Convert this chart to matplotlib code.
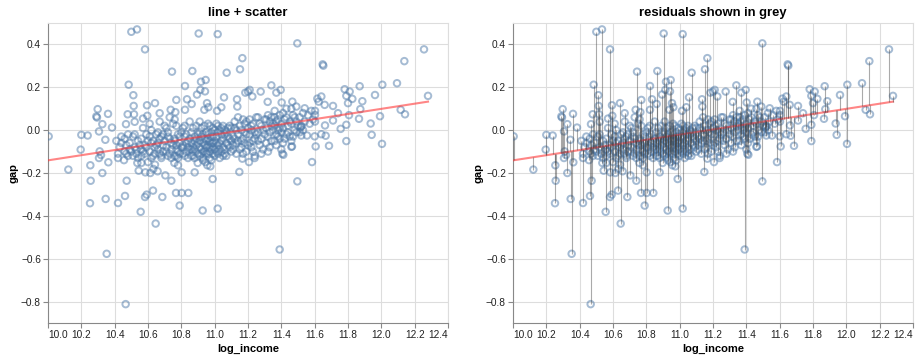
import numpy as np
import matplotlib
matplotlib.use("Agg")
import matplotlib.pyplot as plt

# points well away from the dense core (read one by one)
outer_x = [10.500, 10.534, 10.904, 11.018, 10.582, 11.496, 12.256, 12.138, 11.648, 11.652,
           11.166, 11.152, 10.744, 10.866, 11.072, 10.484, 10.822, 10.918, 10.946, 10.914,
           10.942, 10.894, 11.340, 12.006, 12.094, 11.870, 11.780, 11.810, 11.790, 11.826,
           11.886, 11.962, 12.280, 12.116, 12.142, 11.992, 11.936, 11.942, 12.004, 11.790,
           11.686, 11.606, 11.584, 11.496, 11.390, 11.756, 11.790, 11.806, 11.866, 11.874,
           11.800, 11.710, 11.740, 11.710, 11.662, 11.666, 11.640, 11.600, 11.640, 11.616,
           11.624, 11.660, 11.602, 11.602, 11.602, 11.540, 11.490, 11.466, 11.520, 11.514,
           11.520, 11.554, 11.464, 11.406, 11.370, 11.396, 11.276, 11.200, 11.184, 11.210,
           11.226, 11.134, 11.056, 11.136, 11.318, 11.402, 11.040, 11.014, 10.954, 10.962,
           10.938, 10.862, 10.834, 10.770, 10.642, 10.594, 10.514, 10.512, 10.822, 10.736,
           10.764, 10.670, 10.596, 10.516, 10.478, 10.360, 10.298, 10.290, 10.294, 10.326,
           10.306, 10.384, 10.468, 10.520, 10.570, 10.200, 10.238, 10.004, 10.196, 10.122,
           10.254, 10.256, 10.252, 10.310, 10.306, 10.318, 10.326, 10.362, 10.344, 10.346,
           10.352, 10.420, 10.462, 10.472, 10.456, 10.466, 10.556, 10.582, 10.592, 10.630,
           10.646, 10.686, 10.768, 10.802, 10.842, 10.790, 10.928, 11.018, 10.988, 11.148,
           10.704, 10.740, 10.544, 10.584, 10.614, 10.632, 10.658, 10.802, 10.880, 10.780,
           10.758, 10.770, 10.536, 10.560, 10.600, 10.642, 10.898, 10.956, 10.974, 10.944,
           11.206, 11.166, 11.240, 11.460, 11.412]
outer_y = [0.459, 0.470, 0.451, 0.448, 0.377, 0.405, 0.377, 0.322, 0.307, 0.301,
           0.336, 0.284, 0.273, 0.276, 0.268, 0.212, 0.206, 0.226, 0.234, 0.188,
           0.181, 0.166, 0.209, 0.212, 0.219, 0.205, 0.191, 0.180, 0.160, 0.146,
           0.135, 0.164, 0.160, 0.095, 0.074, 0.065, 0.031, -0.022, -0.064, -0.051,
           -0.073, -0.076, -0.149, -0.239, -0.557, 0.006, 0.025, 0.070, 0.053, 0.098,
           0.126, 0.113, 0.079, 0.045, 0.022, -0.026, -0.019, -0.029, 0.157, 0.147,
           0.133, 0.118, 0.090, 0.071, 0.040, 0.102, 0.110, 0.133, 0.017, 0.012,
           -0.025, -0.025, -0.076, -0.110, 0.175, 0.188, 0.180, 0.180, 0.175, 0.188,
           0.157, 0.144, 0.153, 0.110, 0.132, 0.129, 0.107, 0.090, 0.126, 0.107,
           0.095, 0.122, 0.144, 0.141, 0.126, 0.116, 0.113, 0.163, 0.095, 0.095,
           0.084, 0.079, 0.067, 0.074, 0.074, 0.076, 0.098, 0.064, 0.059, 0.028,
           -0.006, 0.012, 0.028, 0.039, 0.054, -0.022, -0.025, -0.029, -0.091, -0.184,
           -0.164, -0.236, -0.341, -0.099, -0.130, -0.116, -0.200, -0.150, -0.045, -0.321,
           -0.577, -0.340, -0.307, -0.236, -0.140, -0.812, -0.381, -0.312, -0.301, -0.282,
           -0.436, -0.312, -0.293, -0.293, -0.293, -0.352, -0.375, -0.366, -0.228, -0.195,
           -0.211, -0.236, -0.189, -0.197, -0.200, -0.181, -0.192, -0.197, -0.197, -0.164,
           -0.153, -0.122, -0.153, -0.153, -0.149, -0.161, -0.153, -0.164, -0.169, -0.149,
           -0.149, -0.133, -0.130, -0.078, -0.115]

# dense core, estimated column by column
core_x = [10.41, 10.42, 10.43, 10.44, 10.42, 10.44,
          10.46, 10.47, 10.48, 10.46, 10.49, 10.48, 10.47, 10.49,
          10.51, 10.52, 10.53, 10.51, 10.54, 10.52, 10.53, 10.54, 10.55, 10.50,
          10.56, 10.57, 10.58, 10.56, 10.59, 10.58, 10.57, 10.59, 10.60, 10.56,
          10.61, 10.62, 10.63, 10.61, 10.64, 10.62, 10.63, 10.64, 10.65, 10.62, 10.65, 10.61,
          10.66, 10.67, 10.68, 10.66, 10.69, 10.67, 10.68, 10.69, 10.70, 10.66, 10.68, 10.70, 10.67, 10.69,
          10.71, 10.72, 10.73, 10.71, 10.74, 10.72, 10.73, 10.74, 10.75, 10.71, 10.73, 10.75, 10.72, 10.74,
          10.76, 10.77, 10.78, 10.76, 10.79, 10.77, 10.78, 10.79, 10.80, 10.76, 10.78, 10.80, 10.77, 10.79, 10.76,
          10.81, 10.82, 10.83, 10.81, 10.84, 10.82, 10.83, 10.84, 10.85, 10.81, 10.83, 10.85, 10.82, 10.84, 10.85, 10.81,
          10.86, 10.87, 10.88, 10.86, 10.89, 10.87, 10.88, 10.89, 10.90, 10.86, 10.88, 10.90, 10.87, 10.89, 10.86, 10.88, 10.90, 10.87,
          10.91, 10.92, 10.93, 10.91, 10.94, 10.92, 10.93, 10.94, 10.95, 10.91, 10.93, 10.95, 10.92, 10.94, 10.91, 10.93, 10.95, 10.92,
          10.94, 10.91, 10.93, 10.95,
          10.96, 10.97, 10.98, 10.96, 10.99, 10.97, 10.98, 10.99, 11.00, 10.96, 10.98, 11.00, 10.97, 10.99, 10.96, 10.98, 11.00, 10.97,
          10.99, 10.96, 10.98, 11.00, 10.97, 10.99,
          11.01, 11.02, 11.03, 11.01, 11.04, 11.02, 11.03, 11.04, 11.05, 11.01, 11.03, 11.05, 11.02, 11.04, 11.01, 11.03, 11.05, 11.02,
          11.04, 11.05,
          11.06, 11.07, 11.08, 11.06, 11.09, 11.07, 11.08, 11.09, 11.10, 11.06, 11.08, 11.10, 11.07, 11.09, 11.06, 11.10,
          11.11, 11.12, 11.13, 11.11, 11.14, 11.12, 11.13, 11.14, 11.15, 11.11, 11.13, 11.15, 11.12, 11.14,
          11.16, 11.17, 11.18, 11.16, 11.19, 11.17, 11.18, 11.19, 11.20, 11.16, 11.18, 11.20, 11.17, 11.19,
          11.21, 11.22, 11.23, 11.21, 11.24, 11.22, 11.23, 11.24, 11.25, 11.21, 11.23, 11.25, 11.22, 11.24,
          11.26, 11.27, 11.28, 11.26, 11.29, 11.27, 11.28, 11.29, 11.30, 11.26, 11.28, 11.30,
          11.31, 11.32, 11.33, 11.31, 11.34, 11.32, 11.33, 11.34, 11.35, 11.31, 11.33, 11.35, 11.32, 11.34,
          11.36, 11.37, 11.38, 11.36, 11.39, 11.37, 11.38, 11.39, 11.40, 11.36, 11.38, 11.40, 11.37, 11.39, 11.36, 11.40,
          11.41, 11.42, 11.43, 11.41, 11.44, 11.42, 11.43, 11.44, 11.45, 11.41, 11.43, 11.45,
          11.46, 11.47, 11.48, 11.46, 11.49, 11.47, 11.48, 11.49, 11.50, 11.46,
          11.51, 11.52, 11.53, 11.51, 11.54, 11.53,
          11.56, 11.57, 11.58, 11.59]
core_y = [-0.05, -0.11, -0.08, -0.03, -0.13, -0.06,
          -0.10, -0.07, -0.12, -0.04, -0.09, -0.02, -0.11, -0.06,
          -0.03, -0.08, -0.11, -0.12, -0.05, -0.02, -0.09, -0.13, -0.07, -0.10,
          -0.04, -0.10, -0.07, -0.12, -0.02, -0.11, 0.01, -0.08, -0.05, -0.09,
          -0.10, -0.06, -0.12, -0.03, -0.08, 0.00, -0.05, -0.11, -0.02, -0.13, -0.07, 0.03,
          -0.09, -0.04, -0.12, -0.01, -0.07, -0.11, -0.03, -0.10, 0.02, -0.06, -0.13, -0.05, 0.04, -0.02,
          -0.08, -0.03, -0.11, 0.01, -0.06, -0.12, -0.04, -0.09, 0.03, -0.10, 0.06, -0.07, -0.01, -0.13,
          -0.05, -0.09, -0.02, -0.12, -0.06, 0.02, -0.10, -0.03, -0.08, 0.05, -0.13, -0.01, -0.07, -0.11, -0.04,
          -0.07, -0.03, -0.10, 0.01, -0.05, -0.12, -0.02, -0.08, 0.04, -0.11, -0.06, -0.09, 0.02, -0.13, -0.04, -0.08,
          -0.06, -0.10, -0.03, -0.12, -0.07, 0.01, -0.09, -0.04, -0.11, -0.01, -0.13, -0.06, -0.08, 0.02, -0.09, -0.05, -0.02, -0.12,
          -0.05, -0.09, -0.02, -0.12, -0.07, 0.01, -0.10, -0.04, -0.08, -0.01, -0.13, -0.05, -0.11, 0.02, -0.08, -0.06, -0.11, -0.03,
          -0.10, 0.04, -0.14, -0.01,
          -0.04, -0.08, -0.01, -0.11, -0.06, 0.02, -0.09, -0.03, -0.12, -0.07, -0.14, -0.05, -0.10, 0.01, -0.02, -0.06, -0.09, -0.13,
          -0.11, 0.03, -0.03, 0.00, -0.05, -0.08,
          -0.03, -0.07, 0.00, -0.10, -0.05, 0.02, -0.09, -0.02, -0.12, -0.06, -0.13, -0.04, -0.11, 0.01, 0.03, -0.06, -0.08, -0.01,
          -0.10, 0.02,
          -0.02, -0.06, 0.01, -0.09, -0.04, -0.12, -0.07, 0.02, -0.10, 0.00, -0.03, -0.05, -0.01, -0.08, -0.11, 0.01,
          -0.03, 0.01, -0.06, -0.09, -0.02, 0.04, -0.11, -0.05, 0.02, -0.07, 0.00, -0.09, -0.04, 0.06,
          0.00, -0.04, 0.03, -0.08, -0.02, 0.05, -0.06, -0.10, 0.01, -0.05, -0.01, -0.07, -0.11, 0.04,
          -0.02, 0.02, -0.05, 0.05, -0.01, -0.08, 0.03, -0.04, 0.06, -0.06, -0.10, -0.02, 0.00, -0.12,
          -0.01, 0.03, -0.04, 0.06, 0.00, -0.07, 0.02, -0.09, 0.05, -0.05, -0.11, -0.02,
          0.01, -0.03, 0.04, -0.06, 0.02, 0.07, -0.01, -0.05, 0.03, 0.05, -0.08, 0.00, -0.10, 0.06,
          0.02, -0.02, 0.05, -0.05, 0.01, 0.04, -0.03, 0.07, -0.01, 0.06, 0.00, 0.03, -0.07, -0.04, 0.09, -0.09,
          0.01, 0.05, -0.02, 0.08, 0.02, -0.04, 0.06, -0.01, 0.04, -0.06, 0.10, -0.03,
          0.03, 0.07, 0.00, 0.10, 0.04, -0.03, 0.06, -0.01, 0.02, -0.05,
          0.06, 0.02, 0.08, -0.01, 0.04, 0.00,
          0.07, 0.03, 0.09, 0.05]

# fitted line: gap = fit_at_10 + fit_slope * (log_income - 10)
fit_at_10 = -0.141
fit_slope = 0.1202

x_ticks = [10.0, 10.2, 10.4, 10.6, 10.8, 11.0, 11.2, 11.4, 11.6, 11.8, 12.0, 12.2, 12.4]
y_ticks = [-0.8, -0.6, -0.4, -0.2, 0.0, 0.2, 0.4]
titles = ["line + scatter", "residuals shown in grey"]

x = np.array(outer_x + core_x)
y = np.array(outer_y + core_y)
line_x = np.array([x.min(), x.max()])
line_y = fit_at_10 + fit_slope * (line_x - 10)
pred = fit_at_10 + fit_slope * (x - 10)

plt.rcParams["font.family"] = ["Liberation Sans", "DejaVu Sans"]
fig = plt.figure(figsize=(9.2, 3.61), dpi=100)

W, H = 920, 361
lefts = [48, 513]
for i, left in enumerate(lefts):
    ax = fig.add_axes([left / W, 38 / H, 400 / W, 300 / H])
    ax.scatter(x, y, s=22, facecolors="none", edgecolors="#4c78a8",
               linewidths=1.4, alpha=0.5, zorder=3)
    ax.plot(line_x, line_y, color="#ff3535", alpha=0.6, lw=1.5, zorder=4)
    if i == 1:
        ax.vlines(x, pred, y, colors="#444444", alpha=0.45, lw=0.8, zorder=5)

    ax.set_xlim(10.0, 12.4)
    ax.set_ylim(-0.9, 0.5)
    ax.set_xticks(x_ticks)
    ax.set_yticks(y_ticks)
    ax.set_xticklabels([f"{t:.1f}" for t in x_ticks])
    ax.set_yticklabels([f"{t:.1f}".replace("-", "\u2212") for t in y_ticks])
    labs = ax.get_xticklabels()
    labs[0].set_horizontalalignment("left")
    labs[-1].set_horizontalalignment("right")

    ax.grid(True, color="#dddddd", lw=0.8, zorder=0)
    ax.set_axisbelow(True)
    for s in ["top", "right"]:
        ax.spines[s].set_color("#dddddd")
        ax.spines[s].set_linewidth(0.8)
    for s in ["left", "bottom"]:
        ax.spines[s].set_color("#888888")
        ax.spines[s].set_linewidth(0.8)
    ax.tick_params(axis="both", length=3.6, width=0.8, color="#888888",
                   labelsize=7.3, labelcolor="#222222", pad=1.5)

    ax.set_xlabel("log_income", fontsize=8, fontweight="bold", labelpad=3)
    ax.set_ylabel("gap", fontsize=8, fontweight="bold", labelpad=1.5)
    ax.set_title(titles[i], fontsize=9.4, fontweight="bold", pad=5)

fig.savefig("out.png", dpi=100)
